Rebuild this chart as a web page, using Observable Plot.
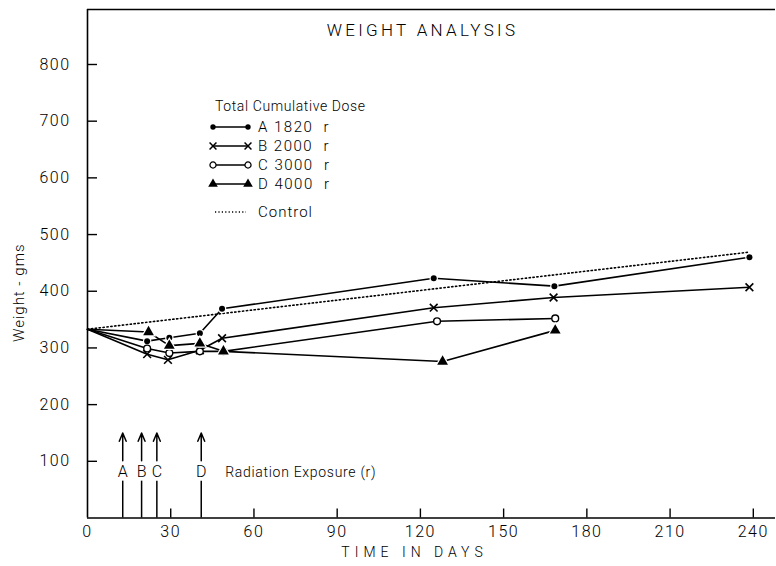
<!DOCTYPE html>
<html>
<head>
<meta charset="utf-8">
<script src="https://cdn.jsdelivr.net/npm/d3@7"></script>
<script src="https://cdn.jsdelivr.net/npm/@observablehq/plot@0.6"></script>
<style>
  body { margin: 0; background: #fff; }
  #chart svg { font-family: Roboto, "Liberation Sans", sans-serif; font-weight: 300; }
</style>
</head>
<body>
<div id="chart"></div>
<script>
// Dose groups and their total cumulative dose (r)
const groups = ["A", "B", "C", "D"];
const doses = [1820, 2000, 3000, 4000];

// Mean body weight (gms) against time (days) for each group
const daysA = [0, 21.5, 29.5, 40.5, 48.5, 124.8, 168.3, 238.6];
const weightA = [333, 312, 318, 326, 369, 423, 409, 460];
const daysB = [0, 21.5, 29, 40.5, 48.5, 124.8, 168, 238.6];
const weightB = [333, 289, 279, 296, 317, 371, 389, 407];
const daysC = [0, 21.5, 29.5, 40.5, 49, 126, 168.6];
const weightC = [333, 299, 291, 294, 294, 347, 352];
const daysD = [0, 22, 29.5, 40.5, 49, 128, 168.6];
const weightD = [333, 328, 304, 308, 294, 276, 331];
const controlDays = [0, 238.6];
const controlWeight = [333, 469];

// Day of each radiation exposure
const exposureGroups = ["A", "B", "C", "D"];
const exposureDays = [12.7, 19.5, 25, 41];

// Axis ticks
const xTicks = [0, 30, 60, 90, 120, 150, 180, 210, 240];
const yTicks = [100, 200, 300, 400, 500, 600, 700, 800];

const title = "WEIGHT ANALYSIS";
const xLabel = "TIME IN DAYS";
const yLabel = "Weight - gms";
const legendTitle = "Total Cumulative Dose";
const exposureLabel = "Radiation Exposure (r)";
const controlLabel = "Control";

const width = 776, height = 566;
const marginLeft = 87, marginRight = 1, marginTop = 9, marginBottom = 48.5;
const frameW = width - marginLeft - marginRight;
const frameH = height - marginTop - marginBottom;

const series = [
  {key: "A", days: daysA, weights: weightA, symbol: "circle", fill: "black", r: 3},
  {key: "B", days: daysB, weights: weightB, symbol: "times", fill: "none", r: 3.6},
  {key: "C", days: daysC, weights: weightC, symbol: "circle", fill: "white", r: 3.4},
  {key: "D", days: daysD, weights: weightD, symbol: "triangle", fill: "black", r: 4}
];
const rows = series.flatMap(s => s.days.map((d, i) => ({group: s.key, day: d, weight: s.weights[i]})));
const controlRows = controlDays.map((d, i) => ({day: d, weight: controlWeight[i]}));
const exposures = exposureDays.map((d, i) => ({group: exposureGroups[i], day: d}));

function markerMarks(s) {
  const data = rows.filter(r => r.group === s.key && r.day > 0);
  if (s.symbol === "times") {
    return Plot.dot(data, {x: "day", y: "weight", symbol: "times", r: s.r, stroke: "black", strokeWidth: 1.6});
  }
  if (s.fill === "white") {
    return Plot.dot(data, {x: "day", y: "weight", symbol: "circle", r: s.r, fill: "white", stroke: "black", strokeWidth: 1.4});
  }
  return Plot.dot(data, {x: "day", y: "weight", symbol: s.symbol, r: s.r, fill: "black",
    stroke: "white", strokeWidth: 2.5, paintOrder: "stroke"});
}

// Legend block drawn inside the frame
function legend() {
  const g = d3.create("svg:g").attr("font-size", 14).attr("fill", "black").attr("text-anchor", "start");
  const x0 = 213, x1 = 248, tx = 258;
  g.append("text").attr("x", 215).attr("y", 106).attr("dy", "0.35em")
    .attr("letter-spacing", "0.6px").text(legendTitle);
  series.forEach((s, i) => {
    const y = 127 + i * 19;
    g.append("line").attr("x1", x0).attr("x2", x1).attr("y1", y).attr("y2", y)
      .attr("stroke", "black").attr("stroke-width", 1.5);
    const sym = d3.symbol(s.symbol === "times" ? d3.symbolTimes : s.symbol === "triangle" ? d3.symbolTriangle : d3.symbolCircle,
      Math.PI * s.r * s.r * 0.8);
    [x0, x1].forEach(x => {
      const p = g.append("path").attr("d", sym()).attr("transform", `translate(${x},${y})`);
      if (s.symbol === "times") p.attr("fill", "none").attr("stroke", "black").attr("stroke-width", 1.5);
      else if (s.fill === "white") p.attr("fill", "white").attr("stroke", "black").attr("stroke-width", 1.3);
      else p.attr("fill", "black");
    });
    g.append("text").attr("x", tx).attr("y", y).attr("dy", "0.35em")
      .attr("font-size", 15).attr("letter-spacing", "1.5px")
      .style("white-space", "pre")
      .text(`${s.key} ${doses[i]}  r`);
  });
  const yc = 212;
  g.append("line").attr("x1", 215).attr("x2", 246).attr("y1", yc).attr("y2", yc)
    .attr("stroke", "black").attr("stroke-width", 1.5).attr("stroke-dasharray", "1.2,2.2");
  g.append("text").attr("x", tx).attr("y", yc).attr("dy", "0.35em")
    .attr("font-size", 15).attr("letter-spacing", "1px").text(controlLabel);
  return g.node();
}

const chart = Plot.plot({
  width, height, marginLeft, marginRight, marginTop, marginBottom,
  style: {fontSize: "16px", fontFamily: "Roboto, 'Liberation Sans', sans-serif", background: "white"},
  x: {domain: [0, 248], label: null},
  y: {domain: [0, 897], label: null},
  marks: [
    // frame: left, bottom and top edges
    Plot.ruleX([0], {strokeWidth: 1.6}),
    Plot.ruleY([0], {strokeWidth: 1.6}),
    Plot.ruleY([897], {strokeWidth: 1.6}),
    // inward ticks
    Plot.tickY(yTicks, {y: d => d, insetRight: frameW - 10, strokeWidth: 1.4}),
    Plot.tickX(xTicks.filter(d => d > 0), {x: d => d, insetTop: frameH - 9, strokeWidth: 1.4}),
    Plot.axisX({ticks: xTicks, tickSize: 0, tickPadding: 8, tickFormat: d => d, label: null}),
    Plot.axisY({ticks: yTicks, tickSize: 0, tickPadding: 17, tickFormat: d => d, label: null}),
    // control (dotted)
    Plot.line(controlRows, {x: "day", y: "weight", stroke: "black", strokeWidth: 1.6, strokeDasharray: "1.3,2.6"}),
    // dose groups
    Plot.line(rows, {x: "day", y: "weight", z: "group", stroke: "black", strokeWidth: 1.6}),
    ...series.map(markerMarks),
    // radiation exposure arrows
    Plot.ruleX(exposures, {x: "day", y1: 0, y2: 65, strokeWidth: 1.5}),
    Plot.arrow(exposures, {x: "day", y1: 101, y2: 150, strokeWidth: 1.5, headLength: 9, headAngle: 45}),
    Plot.text(exposures, {x: "day", y: 81, text: "group", fontSize: 16}),
    Plot.text([exposureLabel], {x: exposureDays[3], y: 81, dx: 24, textAnchor: "start", fontSize: 14}),
    // titles
    Plot.text([title], {frameAnchor: "top", lineAnchor: "middle", dx: -9, dy: 21, fontSize: 17}),
    Plot.text([xLabel], {frameAnchor: "bottom", lineAnchor: "middle", dx: -17, dy: 35, fontSize: 14}),
    Plot.text([yLabel], {frameAnchor: "left", textAnchor: "middle", lineAnchor: "middle", dx: -68, dy: 29, rotate: -90, fontSize: 15}),
    legend
  ]
});

// letter spacing for the lettering-style text
const svg = d3.select(chart);
svg.selectAll('g[aria-label="x-axis tick label"] text, g[aria-label="y-axis tick label"] text')
  .attr("letter-spacing", "1.5px");
const spacing = new Map([[exposureLabel, "0.7px"], [title, "3.3px"], [xLabel, "5px"], [yLabel, "1px"]]);
svg.selectAll("text").each(function() {
  const ls = spacing.get(this.textContent);
  if (ls) this.setAttribute("letter-spacing", ls);
});
document.getElementById("chart").append(chart);
</script>
</body>
</html>
